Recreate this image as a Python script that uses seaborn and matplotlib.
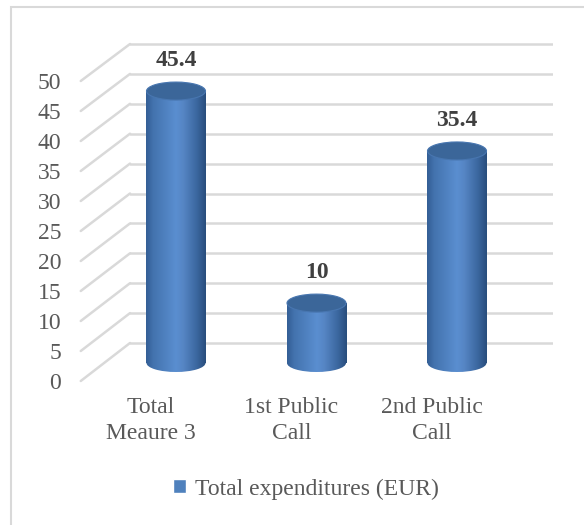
import numpy as np
import pandas as pd
import matplotlib
matplotlib.use("Agg")
import matplotlib.pyplot as plt
import seaborn as sns
from matplotlib.patches import Ellipse, Rectangle, Patch, ConnectionPatch
from matplotlib.colors import LinearSegmentedColormap

# ---------------- data ----------------
categories = ["Total\nMeaure 3", "1st Public\nCall", "2nd Public\nCall"]
values = [45.4, 10, 35.4]
value_labels = ["45.4", "10", "35.4"]
yticks = [0, 5, 10, 15, 20, 25, 30, 35, 40, 45, 50]
series_name = "Total expenditures (EUR)"

# ---------------- style ----------------
W, H = 584, 525
sns.set_theme(style="white")
plt.rcParams["font.family"] = ["Liberation Serif", "DejaVu Serif"]
TXT = "#595959"
GRID = "#d9d9d9"
BASE = "#4f81bd"
FS = 17

fig = plt.figure(figsize=(W / 100, H / 100), dpi=100)


def rect(l, t, r, b):
    return [l / W, 1 - b / H, (r - l) / W, (b - t) / H]


def clean(a):
    for s in a.spines.values():
        s.set_visible(False)
    a.patch.set_alpha(0)


# ---------------- back wall (gridlines) ----------------
PPU_BACK = (343 - 44) / 50
ax_back = fig.add_axes(rect(130, 44 - PPU_BACK, 553, 343 + PPU_BACK))
ax_back.set_ylim(-1, 51)
ax_back.set_xlim(0, 1)
ax_back.set_yticks(yticks)
ax_back.set_xticks([])
ax_back.grid(axis="y", color=GRID, lw=1.8)
ax_back.tick_params(left=False, labelleft=False, bottom=False, labelbottom=False)
clean(ax_back)

# ---------------- front plane (tick labels) ----------------
PPU_F = 6.0
ax_front = fig.add_axes(rect(80.75, 81 - PPU_F, 502.25, 381 + PPU_F))
ax_front.set_ylim(-1, 51)
ax_front.set_xlim(-0.5, len(categories) - 0.5)
ax_front.set_yticks(yticks)
ax_front.set_yticklabels([str(t) for t in yticks])
ax_front.set_xticks(range(len(categories)))
ax_front.set_xticklabels(categories, linespacing=1.33)
ax_front.tick_params(axis="y", length=0, pad=14, labelsize=FS, labelcolor=TXT)
ax_front.tick_params(axis="x", length=0, pad=7, labelsize=FS, labelcolor=TXT)
clean(ax_front)

# side-wall diagonals joining the front plane to the back wall
for t in yticks:
    con = ConnectionPatch(xyA=(-0.5, t), coordsA="data", axesA=ax_front,
                          xyB=(0, t), coordsB="data", axesB=ax_back,
                          color=GRID, lw=1.8)
    fig.add_artist(con)

# ---------------- bars (middle plane) ----------------
PPU_B = (363 - 63.5) / 50
ax = fig.add_axes(rect(105.75, 363 - 55 * PPU_B, 527.25, 363 + 3 * PPU_B))
df = pd.DataFrame({"category": categories, "value": values})
sns.barplot(data=df, x="category", y="value", ax=ax, width=0.42,
            color=BASE, saturation=1, edgecolor="none")
ax.set_ylim(-3, 55)
ax.set_xlim(-0.5, len(categories) - 0.5)
ax.set_xticks([])
ax.set_yticks([])
ax.set_xlabel("")
ax.set_ylabel("")
clean(ax)

cmap = LinearSegmentedColormap.from_list(
    "cyl", [(0.0, "#335e95"), (0.12, "#4373ae"), (0.5, "#5a8ed0"),
            (0.62, "#5686c5"), (0.85, "#3b679f"), (1.0, "#284d7c")])
grad = np.linspace(0, 1, 256).reshape(1, -1)
eh = 18 / PPU_B  # ellipse height in data units

for i, p in enumerate(list(ax.patches)):
    x0, w, h = p.get_x(), p.get_width(), p.get_height()
    p.set_facecolor("none")
    p.set_linewidth(0)
    # cylinder body
    im = ax.imshow(grad, cmap=cmap, extent=[x0, x0 + w, -eh / 2, h],
                   aspect="auto", interpolation="bicubic", zorder=2)
    im.set_clip_path(p)
    # rounded bottom
    bot = Ellipse((x0 + w / 2, 0), w, eh, facecolor="none", edgecolor="none")
    ax.add_patch(bot)
    im2 = ax.imshow(grad, cmap=cmap, extent=[x0, x0 + w, -eh / 2, h],
                    aspect="auto", interpolation="bicubic", zorder=2)
    im2.set_clip_path(bot)
    # top cap
    top = Ellipse((x0 + w / 2, h), w, eh, facecolor="#3b6699",
                  edgecolor="#4876b0", lw=0.8, zorder=3)
    ax.add_patch(top)
    ax.annotate(value_labels[i], xy=(x0 + w / 2, h), xytext=(0, 22),
                textcoords="offset points", ha="center", va="center",
                fontsize=FS, fontweight="bold", color="#404040")

ax.set_xlim(-0.5, len(categories) - 0.5)
ax.set_ylim(-3, 55)

# ---------------- legend ----------------
fig.legend(handles=[Patch(facecolor=BASE, label=series_name)], loc="center",
           bbox_to_anchor=(0.524, 1 - 489 / H), frameon=False, fontsize=FS,
           handlelength=0.55, handleheight=0.55, handletextpad=0.35,
           labelcolor=TXT)

# ---------------- chart border ----------------
fig.patches.append(Rectangle((10.5 / W, -0.1), 2, 1.1 - 7.5 / H,
                             transform=fig.transFigure, fill=False,
                             edgecolor=GRID, lw=1.5))

fig.savefig("out.png", dpi=100)
